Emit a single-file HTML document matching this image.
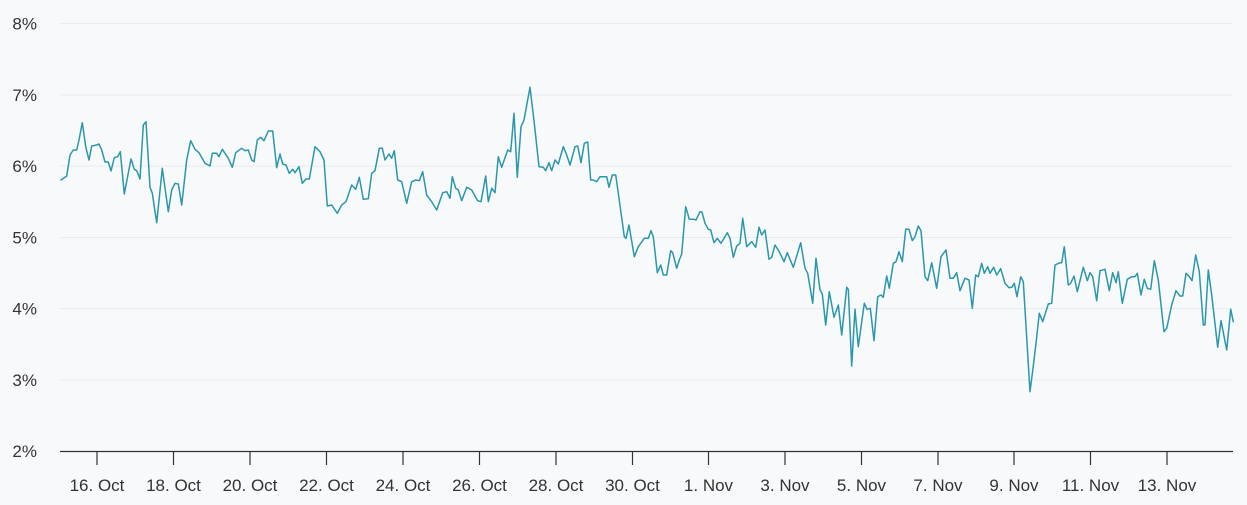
<!DOCTYPE html>
<html><head><meta charset="utf-8"><style>
html,body{margin:0;padding:0;background:#f8f9fb;}
svg{display:block;}
text{font-family:"Liberation Sans",sans-serif;font-size:17px;fill:#333;}
</style></head><body>
<svg width="1247" height="505" viewBox="0 0 1247 505" xmlns="http://www.w3.org/2000/svg">
<rect width="1247" height="505" fill="#f8f9fb"/>
<g stroke="#e8ebef" stroke-width="1">
<line x1="60" x2="1233" y1="23.5" y2="23.5"/>
<line x1="60" x2="1233" y1="95" y2="95"/>
<line x1="60" x2="1233" y1="166" y2="166"/>
<line x1="60" x2="1233" y1="237.5" y2="237.5"/>
<line x1="60" x2="1233" y1="308.5" y2="308.5"/>
<line x1="60" x2="1233" y1="380" y2="380"/>
</g>
<g text-anchor="end">
<text x="37" y="29.5">8%</text>
<text x="37" y="101">7%</text>
<text x="37" y="172">6%</text>
<text x="37" y="243.5">5%</text>
<text x="37" y="314.5">4%</text>
<text x="37" y="386">3%</text>
<text x="37" y="457">2%</text>
</g>
<line x1="60" x2="1233" y1="451.5" y2="451.5" stroke="#333" stroke-width="1.2"/>
<g stroke="#333" stroke-width="1.2">
<line x1="97" x2="97" y1="451" y2="465"/>
<line x1="173.5" x2="173.5" y1="451" y2="465"/>
<line x1="250" x2="250" y1="451" y2="465"/>
<line x1="326.5" x2="326.5" y1="451" y2="465"/>
<line x1="403" x2="403" y1="451" y2="465"/>
<line x1="479.5" x2="479.5" y1="451" y2="465"/>
<line x1="556" x2="556" y1="451" y2="465"/>
<line x1="632.5" x2="632.5" y1="451" y2="465"/>
<line x1="708.5" x2="708.5" y1="451" y2="465"/>
<line x1="785" x2="785" y1="451" y2="465"/>
<line x1="861.5" x2="861.5" y1="451" y2="465"/>
<line x1="938" x2="938" y1="451" y2="465"/>
<line x1="1014" x2="1014" y1="451" y2="465"/>
<line x1="1090.5" x2="1090.5" y1="451" y2="465"/>
<line x1="1167" x2="1167" y1="451" y2="465"/>
</g>
<g text-anchor="middle">
<text x="97" y="491">16. Oct</text>
<text x="173.5" y="491">18. Oct</text>
<text x="250" y="491">20. Oct</text>
<text x="326.5" y="491">22. Oct</text>
<text x="403" y="491">24. Oct</text>
<text x="479.5" y="491">26. Oct</text>
<text x="556" y="491">28. Oct</text>
<text x="632.5" y="491">30. Oct</text>
<text x="708.5" y="491">1. Nov</text>
<text x="785" y="491">3. Nov</text>
<text x="861.5" y="491">5. Nov</text>
<text x="938" y="491">7. Nov</text>
<text x="1014" y="491">9. Nov</text>
<text x="1090.5" y="491">11. Nov</text>
<text x="1167" y="491">13. Nov</text>
</g>
<polyline fill="none" stroke="#2b97ab" stroke-width="1.5" stroke-linejoin="round" stroke-linecap="round" points="
61,180 66.7,176 70,155 73.3,150 76.7,150 79,140 82.3,122.7 85.7,146.7 89,160 91.7,146 96.7,145 99,144 101.7,150 105,162 108.3,162 111,171 114.3,157.7 117.7,156.7 120.3,151.7 124.3,194 131,159 134.3,169.3 136.7,170.7 140,179 143.3,125 146,121.7 150,187.3 152.3,193.3 156.7,222.7 162.3,168.3 168.3,211.7 171.7,190 175,183.3 178.3,184 181.7,205 186.7,160 190.7,140.7 195,149.3 199,152.7 205,163.3 210,166 212.3,153.3 216.7,153.3 219,156.7 222.3,149.3 228.3,158.3 232.3,167.3 235.7,152.7 241.7,148.3 245,150.7 248.3,150 251.7,160 254,161.7 257.3,140 260.7,137.3 264,140.7 268.3,131 272.7,131 276.7,167.7 280,154 282.7,164 286,165 289.3,173.3 292.7,169.3 295,172.7 299,166.7 302.3,183.3 306,179 309.3,179 315,146.7 320,151.7 324,160 327.3,206 331.7,205 337.3,213.3 341.7,205 346,201.7 351.7,185 355.7,189.3 359.3,177.3 363.3,199.3 368.3,198.7 371.7,173.3 375,170.7 379.3,148.3 382.3,148.3 385,160 389,154 391.7,158.3 394.3,150.7 397.7,180 401.7,181.7 406.7,203.3 411.7,181.7 416,180 419.3,180.7 422.7,171.7 426.7,195 431.7,201.7 436.7,210 442.7,192.7 446.7,191.7 450,198.3 452.3,176.7 455.7,188.3 458.3,190 461.7,200.7 466.7,187.3 471.7,190 477.7,200.7 481,201.7 485.7,176 488.3,201.7 491.7,188.3 495,192.7 498.3,156.7 501.7,167.3 507.7,150 510.7,151.7 514,113.3 517.3,177.3 521,126.7 524,120 530,87.3 534.3,123.3 539,166.7 543.3,167.3 545.7,170.7 549,162.7 551.7,170.7 555,160 558.3,164 563.3,146.7 566.7,155 570,165 575,146.7 577.7,146 581,162.7 584.3,143.3 587.7,142 590.7,180 593.3,180 596.7,181.7 600,176.7 606.7,176.7 609,187.3 612.3,175 615.7,175 618.3,193.3 624.3,236.7 626,238.3 629,225 634.3,256.7 638.3,246.7 644.3,238.3 648.3,238.3 651,230.7 653.3,236.7 657.3,272.7 660.7,265 663.3,275 666.7,275 670.7,250.7 672.7,252.7 676.7,268.3 679.3,260 681.7,254 685.7,206.7 689.3,219.3 694,219.3 696,220 700,211.7 702,212 705,223.3 708.3,229.3 710.7,230 714,242.7 717.3,238.3 721,243.3 727.3,232.7 730,238.3 733.3,257.3 736.7,246 740,243.3 742.7,218.3 746.7,246.7 751.7,241.7 755.7,247.3 759,227.3 761.7,235 765,230 769,259.3 771.7,257.3 775,245 779.3,251.7 784,261.7 787.3,252.7 793.3,267.3 800.7,242.7 805,268.3 807.7,273.3 812.7,303.3 816,258.3 820,290 822.3,294 825.7,325 829.3,291.7 834,317.3 838.3,305 841.7,335 846.7,287.3 848.3,289.3 851.7,366 855,309.3 858.3,346.7 864.3,303.3 867,309.3 870.3,308.3 874,340.7 877.7,296.7 881,295 883.3,297.3 886.7,276 889.3,288.3 893.3,263.3 896,261.7 899,251.7 902.3,261.7 905.7,229.3 909,229.3 912.3,240.7 915,236.7 918.3,226 921,230.7 925,276.7 927.7,280.7 931.7,262.7 936.7,288.3 941,256.7 946,250 950,278.3 953.3,278.3 956.7,272.7 960,290.7 965,278.3 969,280 972.3,308.3 975.7,275 978.3,276.7 981.7,263.3 984.3,273.3 987.7,266.7 990,273.3 993.7,267.3 996.7,275 1000.7,268.7 1005,283.3 1009,287.7 1011.7,287.3 1014.3,283.3 1017,296.7 1020.7,276.7 1023.3,281.7 1030,391.7 1033.3,366 1036,343.3 1039.3,313.3 1042.7,321.7 1048.3,304 1051.7,303.3 1055,265 1060,262.7 1061.7,262.7 1064.3,246.7 1068.3,285 1070.7,283.3 1074,276 1077.3,291.7 1083.3,267.3 1087.3,280.7 1090,272.7 1092.7,276.7 1096.7,300.7 1100,270.7 1105,269.3 1109.3,290.7 1112.7,272.7 1116,282.7 1118.3,271.7 1122.3,303.3 1127.3,279.3 1131.7,276.7 1135,276.7 1137.3,273.3 1141,295 1144.3,279.3 1147.3,288.3 1150.7,289.3 1154.3,260.7 1158.3,280 1164,331.7 1166.7,328.3 1171.7,305 1176,290.7 1180,296 1182.7,296 1186,273.3 1189.3,276.7 1192,280.7 1195.7,255 1199.3,271.7 1203.3,325 1205,325 1208.3,270 1211.7,295 1217.7,347.3 1221,320.7 1226.7,350 1230.7,309.3 1233.3,321.7"/>
</svg>
</body></html>
